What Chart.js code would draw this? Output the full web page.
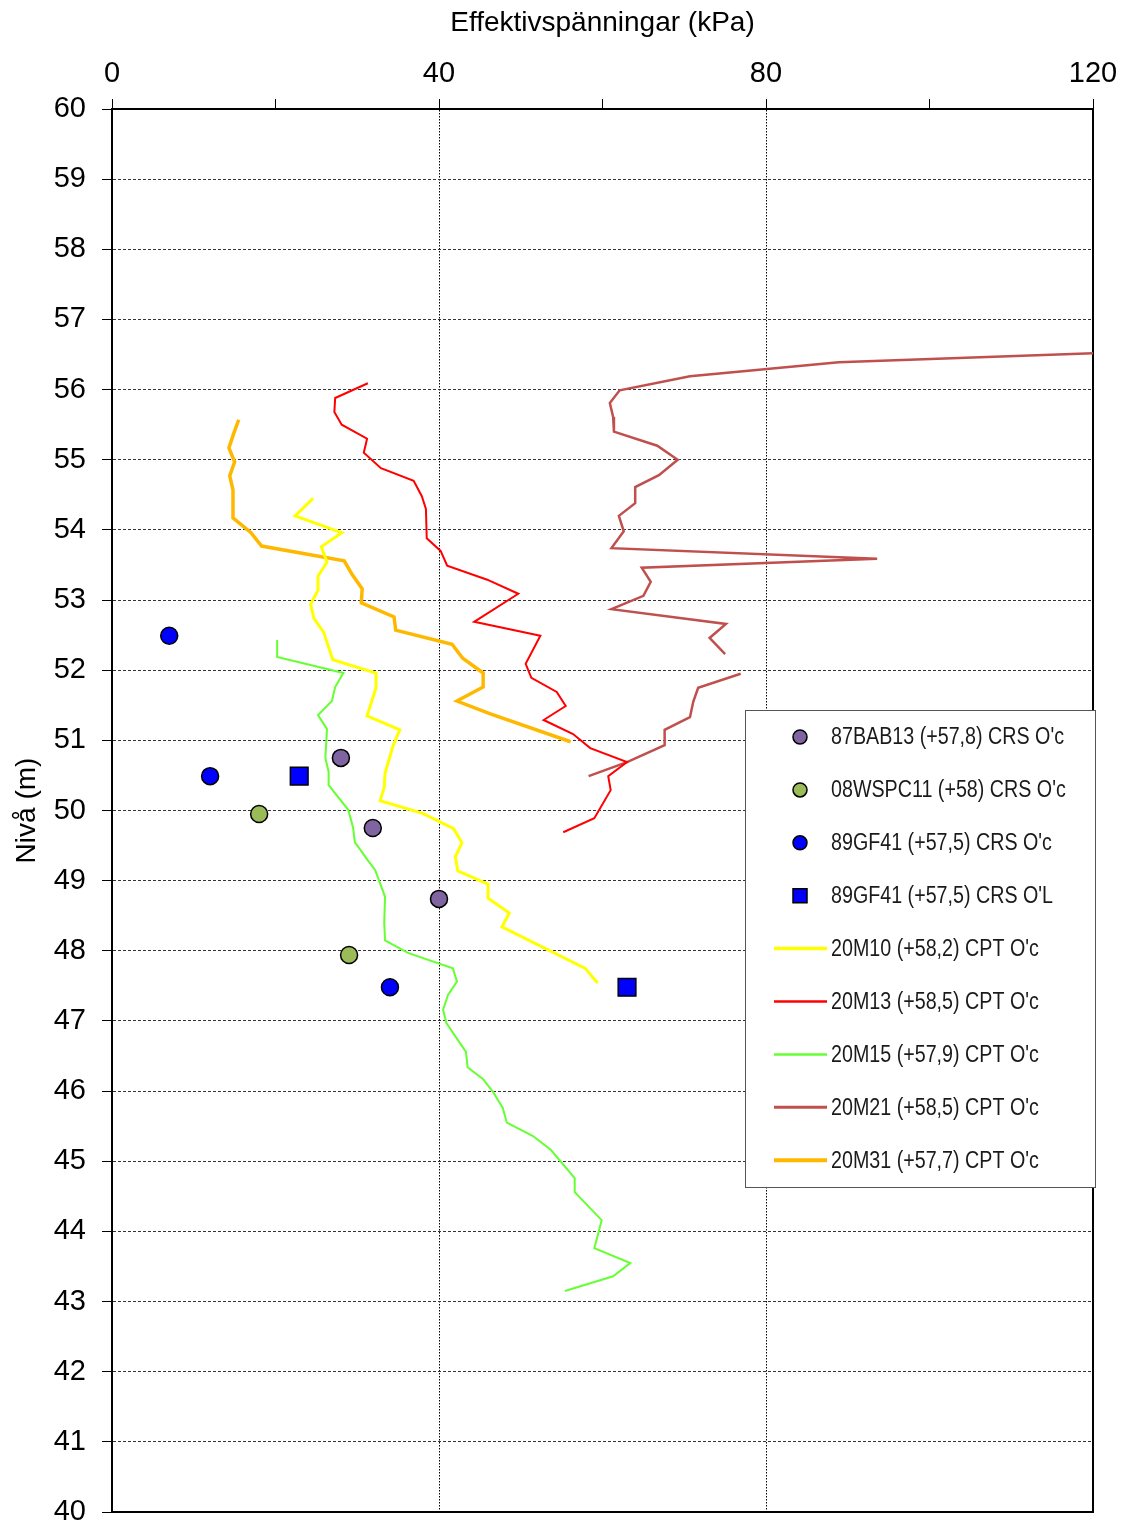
<!DOCTYPE html>
<html>
<head>
<meta charset="utf-8">
<script src="https://cdn.jsdelivr.net/npm/chart.js@4.4.1/dist/chart.umd.min.js"></script>
<style>
  html, body { margin: 0; padding: 0; background: #fff; }
  canvas { display: block; }
</style>
</head>
<body>
<canvas id="chartNiva" width="1127" height="1526"></canvas>
<script>
// Effektivspänningar (kPa) mot nivå (m)

// CRS-punkter
const bab13Stress = [28.0, 31.9, 40.0];
const bab13Level = [50.75, 49.75, 48.74];

const wspc11Stress = [18.0, 29.0];
const wspc11Level = [49.95, 47.94];

const gf41cStress = [7.0, 12.0, 34.0];
const gf41cLevel = [52.49, 50.49, 47.48];

const gf41lStress = [22.9, 63.0];
const gf41lLevel = [50.49, 47.48];

// CPT-profiler
const m10Stress = [24.6, 22.4, 28.1, 25.6, 26.3, 25.2, 25.2, 24.3, 24.7, 25.9, 27.0, 32.3, 32.3, 31.2, 35.2,
  34.4, 33.4, 33.3, 32.8, 38.0, 41.8, 42.8, 42.0, 42.3, 46.0, 46.0, 48.6, 47.7, 57.9, 59.4];
const m10Level = [54.45, 54.20, 53.96, 53.76, 53.54, 53.34, 53.14, 52.94, 52.74, 52.54, 52.15, 51.96, 51.75, 51.35, 51.15,
  50.93, 50.53, 50.33, 50.14, 49.96, 49.74, 49.54, 49.34, 49.14, 48.95, 48.75, 48.54, 48.34, 47.75, 47.54];

const m13Stress = [31.3, 27.3, 27.2, 28.1, 31.2, 30.8, 32.9, 36.9, 37.9, 38.4, 38.5, 40.2, 41.0, 45.9, 49.7,
  44.3, 52.4, 50.6, 51.3, 54.4, 55.5, 52.8, 56.4, 58.5, 63.0, 60.7, 61.0, 59.0, 55.2];
const m13Level = [56.09, 55.88, 55.68, 55.50, 55.30, 55.10, 54.88, 54.70, 54.48, 54.30, 53.88, 53.70, 53.49, 53.29, 53.09,
  52.69, 52.49, 52.09, 51.89, 51.69, 51.49, 51.29, 51.09, 50.89, 50.69, 50.49, 50.29, 49.89, 49.69];

const m15Stress = [20.2, 20.2, 28.3, 27.3, 26.9, 25.2, 26.3, 26.1, 26.5, 26.5, 28.9, 29.5, 29.7, 31.3, 32.2,
  33.4, 33.3, 33.4, 36.2, 41.7, 42.2, 41.1, 40.5, 40.9, 43.3, 43.5, 45.4, 46.6, 47.8, 48.3,
  51.5, 53.7, 56.6, 56.6, 59.9, 59.0, 63.4, 61.3, 55.4];
const m15Level = [52.43, 52.19, 51.96, 51.76, 51.56, 51.36, 51.16, 50.75, 50.55, 50.36, 50.01, 49.75, 49.55, 49.29, 49.15,
  48.77, 48.40, 48.15, 47.97, 47.75, 47.56, 47.37, 47.16, 46.97, 46.56, 46.34, 46.17, 45.99, 45.76, 45.55,
  45.36, 45.16, 44.76, 44.56, 44.16, 43.76, 43.55, 43.36, 43.15];

// null = avbrott i profilen
const m21Stress = [120.5, 88.9, 70.7, 62.1, 60.9, 61.3, 61.4, 66.7, 69.2, 66.9, 64.0, 64.0, 62.0, 62.6, 61.1,
  93.6, 64.8, 65.9, 65.0, 61.1, 75.1, 73.1, 75.0, null, 76.9, 71.7, 71.1, 70.7, 67.6, 67.6, 63.0, 58.3];
const m21Level = [56.52, 56.39, 56.19, 55.99, 55.81, 55.61, 55.40, 55.20, 55.00, 54.78, 54.61, 54.38, 54.20, 53.98, 53.74,
  53.59, 53.46, 53.26, 53.06, 52.87, 52.66, 52.46, 52.23, 52.10, 51.95, 51.75, 51.55, 51.33, 51.15, 50.93, 50.69, 50.49];

const m31Stress = [15.5, 14.9, 14.3, 15.0, 14.4, 14.8, 14.8, 17.0, 18.3, 28.4, 29.4, 30.6, 30.5, 34.5, 34.7,
  41.6, 42.9, 45.4, 45.4, 42.2, 46.2, 56.1];
const m31Level = [55.57, 55.38, 55.17, 54.97, 54.77, 54.57, 54.17, 53.96, 53.77, 53.56, 53.36, 53.16, 52.96, 52.76, 52.57,
  52.37, 52.17, 51.96, 51.76, 51.56, 51.38, 50.98];

const xTicks = [0, 40, 80, 120];

function pts(xs, ys) {
  return xs.map((x, i) => ({ x: x, y: x === null ? null : ys[i] }));
}

function marks(label, xs, ys, color, style) {
  return {
    label: label,
    data: pts(xs, ys),
    showLine: false,
    pointStyle: style,
    pointRadius: style === 'rect' ? 12.5 : 8.5,
    pointBackgroundColor: color,
    pointBorderColor: '#000',
    pointBorderWidth: 1.5,
    backgroundColor: color,
    borderColor: '#000'
  };
}

function profile(label, xs, ys, color, width) {
  return {
    label: label,
    data: pts(xs, ys),
    showLine: true,
    spanGaps: false,
    borderColor: color,
    backgroundColor: color,
    borderWidth: width,
    pointRadius: 0,
    tension: 0
  };
}

const legendBox = {
  id: 'legendBox',
  afterDatasetsDraw(chart) {
    const ctx = chart.ctx;
    const sets = chart.data.datasets;
    ctx.save();
    ctx.fillStyle = '#fff';
    ctx.fillRect(745.5, 710.5, 350, 477);
    ctx.strokeStyle = '#555';
    ctx.lineWidth = 1;
    ctx.strokeRect(745.5, 710.5, 350, 477);

    ctx.font = '23px "Liberation Sans Narrow", "Arial Narrow", "Liberation Sans", sans-serif';
    const squeeze = Math.min(1, 233 / ctx.measureText(sets[0].label).width);

    sets.forEach((ds, i) => {
      const cy = 737 + i * 52.9;
      if (ds.showLine) {
        ctx.strokeStyle = ds.borderColor;
        ctx.lineWidth = ds.borderWidth + 0.5;
        ctx.beginPath();
        ctx.moveTo(774, cy);
        ctx.lineTo(827, cy);
        ctx.stroke();
      } else {
        ctx.fillStyle = ds.pointBackgroundColor;
        ctx.strokeStyle = '#000';
        ctx.lineWidth = 1.5;
        ctx.beginPath();
        if (ds.pointStyle === 'rect') ctx.rect(793, cy - 7, 14, 14);
        else ctx.arc(800, cy, 7, 0, Math.PI * 2);
        ctx.fill();
        ctx.stroke();
      }
      ctx.save();
      ctx.translate(831, cy);
      ctx.scale(squeeze, 1);
      ctx.fillStyle = '#1a1a1a';
      ctx.textBaseline = 'middle';
      ctx.fillText(ds.label, 0, 1);
      ctx.restore();
    });
    ctx.restore();
  }
};

const frame = {
  id: 'frame',
  beforeDatasetsDraw(chart) {
    const a = chart.chartArea;
    const ctx = chart.ctx;
    ctx.save();
    ctx.strokeStyle = '#000';
    ctx.lineWidth = 2;
    ctx.beginPath();
    ctx.moveTo(a.left, a.bottom);
    ctx.lineTo(a.right, a.bottom);
    ctx.lineTo(a.right, a.top);
    ctx.stroke();
    ctx.restore();
  }
};

new Chart(document.getElementById('chartNiva'), {
  type: 'scatter',
  data: {
    datasets: [
      marks("87BAB13 (+57,8) CRS O'c", bab13Stress, bab13Level, '#8064A2', 'circle'),
      marks("08WSPC11 (+58) CRS O'c", wspc11Stress, wspc11Level, '#9BBB59', 'circle'),
      marks("89GF41 (+57,5) CRS O'c", gf41cStress, gf41cLevel, '#0000FF', 'circle'),
      marks("89GF41 (+57,5) CRS O'L", gf41lStress, gf41lLevel, '#0000FF', 'rect'),
      profile("20M10 (+58,2) CPT O'c", m10Stress, m10Level, '#FFFF00', 3),
      profile("20M13 (+58,5) CPT O'c", m13Stress, m13Level, '#FF0000', 2),
      profile("20M15 (+57,9) CPT O'c", m15Stress, m15Level, '#66FF33', 2),
      profile("20M21 (+58,5) CPT O'c", m21Stress, m21Level, '#C0504D', 2.5),
      profile("20M31 (+57,7) CPT O'c", m31Stress, m31Level, '#FFB800', 3.5)
    ]
  },
  options: {
    responsive: false,
    animation: false,
    devicePixelRatio: 1,
    layout: { padding: { top: 0, left: 0, right: 34, bottom: 14 } },
    plugins: {
      legend: { display: false },
      tooltip: { enabled: false }
    },
    scales: {
      x: {
        type: 'linear',
        position: 'top',
        min: 0,
        max: 120,
        afterFit(scale) {
          scale.height = 109;
          scale.paddingLeft = 0;
          scale.paddingRight = 0;
        },
        ticks: {
          stepSize: 20,
          padding: 8,
          maxRotation: 0,
          color: '#000',
          font: { family: '"Liberation Sans", Arial, sans-serif', size: 29 },
          callback: v => xTicks.includes(v) ? v : ''
        },
        grid: {
          color: c => (c.tick && (c.tick.value === 40 || c.tick.value === 80)) ? '#000' : 'rgba(0,0,0,0)',
          lineWidth: 1,
          tickColor: '#000',
          tickLength: 10,
          tickWidth: 1
        },
        border: { display: true, color: '#000', width: 2, dash: [1.5, 1.5] },
        title: {
          display: true,
          text: 'Effektivspänningar (kPa)',
          color: '#000',
          font: { family: '"Liberation Sans", Arial, sans-serif', size: 28 },
          padding: { top: 6, bottom: 0 }
        }
      },
      y: {
        type: 'linear',
        min: 40,
        max: 60,
        afterFit(scale) {
          scale.width = 112;
          scale.paddingTop = 0;
          scale.paddingBottom = 0;
        },
        ticks: {
          stepSize: 0.5,
          padding: 16,
          color: '#000',
          font: { family: '"Liberation Sans", Arial, sans-serif', size: 29 },
          callback: v => Number.isInteger(v) ? v : ''
        },
        grid: {
          color: c => (c.tick && Number.isInteger(c.tick.value) && c.tick.value > 40 && c.tick.value < 60) ? '#333' : 'rgba(0,0,0,0)',
          lineWidth: 1,
          tickColor: '#000',
          tickLength: 10,
          tickWidth: 1
        },
        border: { display: true, color: '#000', width: 2, dash: [3, 2] },
        title: {
          display: true,
          text: 'Nivå (m)',
          color: '#000',
          font: { family: '"Liberation Sans", Arial, sans-serif', size: 28 },
          padding: { top: 10, bottom: 0 }
        }
      }
    }
  },
  plugins: [frame, legendBox]
});
</script>
</body>
</html>
